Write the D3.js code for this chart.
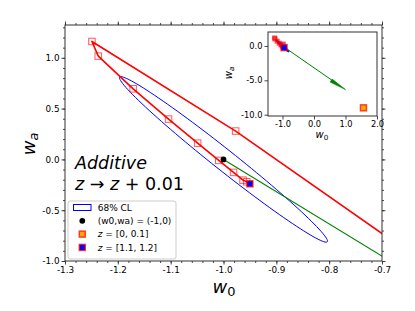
<!DOCTYPE html>
<html>
<head>
<meta charset="utf-8">
<script src="https://cdn.jsdelivr.net/npm/d3@7"></script>
<style>
  html, body { margin: 0; padding: 0; background: #fff; }
  svg { display: block; font-family: "DejaVu Sans", sans-serif; }
  text { white-space: pre; }
</style>
</head>
<body>
<svg id="chart" width="415" height="311"></svg>
<script>
// ---------- Data ----------
// redshift-bin path, z=[0,0.1] first, z=[1.1,1.2] last
const pathW0 = [1.57, -0.977, -1.249, -1.237, -1.171, -1.104, -1.049, -1.009, -0.981, -0.963, -0.956, -0.950];
const pathWa = [-9.00, 0.279, 1.161, 1.017, 0.695, 0.397, 0.160, -0.010, -0.128, -0.204, -0.220, -0.240];
const fiducial = [-1, 0];
// 68% CL ellipse: centre + two conjugate half-axes (w0, wa)
const ellipseCenter = [-1, 0];
const ellipseMajor = [0.1965, -0.8105];
const ellipseMinor = [-0.0123, -0.0810];
const arrowEnd = [1.0, -6.35];

const xDomain = [-1.3, -0.7];
const yDomain = [-1.0, 1.323];
const xTicks = [-1.3, -1.2, -1.1, -1.0, -0.9, -0.8, -0.7];
const yTicks = [-1.0, -0.5, 0.0, 0.5, 1.0];

const insetXDomain = [-1.46, 2.0];
const insetYDomain = [-10.19, 2.03];
const insetXTicks = [-1, 0, 1, 2];
const insetYTicks = [0, -5, -10];

(function () {
  const svg = d3.select('#chart');
  const fmt = d => d.toFixed(1);

  const frameColor = '#333';
  const red = '#ff0000', blue = '#0000ff', green = '#008000', orange = '#ffa500';

  // ---------- Main axes ----------
  const box = { left: 65, right: 382, top: 25, bottom: 261 };
  const x = d3.scaleLinear().domain(xDomain).range([box.left, box.right]);
  const y = d3.scaleLinear().domain(yDomain).range([box.bottom, box.top]);

  svg.append('clipPath').attr('id', 'clipMain')
    .append('rect')
    .attr('x', box.left).attr('y', box.top)
    .attr('width', box.right - box.left).attr('height', box.bottom - box.top);

  const plot = svg.append('g').attr('clip-path', 'url(#clipMain)');

  function ellipsePts(c, a, b) {
    return d3.range(0, 361, 3).map(deg => {
      const t = deg * Math.PI / 180;
      return [c[0] + a[0] * Math.cos(t) + b[0] * Math.sin(t),
              c[1] + a[1] * Math.cos(t) + b[1] * Math.sin(t)];
    });
  }
  const pts = pathW0.map((w0, i) => [w0, pathWa[i]]);

  function drawMarks(g, sx, sy, opt) {
    const line = d3.line().x(d => sx(d[0])).y(d => sy(d[1]));
    g.append('path')
      .attr('d', line(ellipsePts(ellipseCenter, ellipseMajor, ellipseMinor)))
      .attr('fill', 'none').attr('stroke', blue).attr('stroke-width', opt.ellW);

    if (opt.arrow) {
      opt.arrow(g);
    } else {
      g.append('line')
        .attr('x1', sx(fiducial[0])).attr('y1', sy(fiducial[1]))
        .attr('x2', sx(arrowEnd[0])).attr('y2', sy(arrowEnd[1]))
        .attr('stroke', green).attr('stroke-width', 1.1);
    }

    if (opt.pathLine) {
      g.append('path')
        .attr('d', line(pts))
        .attr('fill', 'none').attr('stroke', red).attr('stroke-width', 1.6)
        .attr('stroke-linejoin', 'round');
    }

    const s = opt.sq;
    g.selectAll(null)
      .data(pts.slice(1, -1))
      .enter().append('rect')
      .attr('x', d => sx(d[0]) - s / 2).attr('y', d => sy(d[1]) - s / 2)
      .attr('width', s).attr('height', s)
      .attr('fill', opt.sqFill).attr('fill-opacity', opt.sqFillOp)
      .attr('stroke', red).attr('stroke-opacity', 0.65).attr('stroke-width', 1);

    g.append('circle')
      .attr('cx', sx(fiducial[0])).attr('cy', sy(fiducial[1]))
      .attr('r', opt.dotR).attr('fill', '#000');

    const first = pts[0], last = pts[pts.length - 1];
    const s2 = opt.endSq;
    g.append('rect')
      .attr('x', sx(first[0]) - s2 / 2).attr('y', sy(first[1]) - s2 / 2)
      .attr('width', s2).attr('height', s2)
      .attr('fill', orange).attr('stroke', red).attr('stroke-opacity', 0.7).attr('stroke-width', 1.5);
    g.append('rect')
      .attr('x', sx(last[0]) - s2 / 2).attr('y', sy(last[1]) - s2 / 2)
      .attr('width', s2).attr('height', s2)
      .attr('fill', blue).attr('stroke', red).attr('stroke-opacity', 0.7).attr('stroke-width', 1.5);
  }

  drawMarks(plot, x, y, {
    ellW: 1, pathLine: true, sq: 6.5, sqFill: 'none', sqFillOp: 1, dotR: 2.9, endSq: 6
  });

  // ---------- Main axis ticks (outward on all four sides) ----------
  function styleAxis(g) {
    g.select('.domain').remove();
    g.selectAll('line').attr('stroke', frameColor).attr('stroke-width', 0.9);
    g.selectAll('text').attr('fill', '#000').attr('font-size', 8.8)
      .attr('font-family', '"DejaVu Sans", sans-serif');
  }
  const xMinor = x.ticks(30), yMinor = y.ticks(20);

  svg.append('g').attr('transform', `translate(0,${box.bottom})`)
    .call(d3.axisBottom(x).tickValues(xMinor).tickSize(2).tickFormat(''))
    .call(styleAxis);
  svg.append('g').attr('transform', `translate(0,${box.bottom})`)
    .call(d3.axisBottom(x).tickValues(xTicks).tickSize(3.5).tickPadding(2).tickFormat(fmt))
    .call(styleAxis);
  svg.append('g').attr('transform', `translate(0,${box.top})`)
    .call(d3.axisTop(x).tickValues(xMinor).tickSize(2).tickFormat(''))
    .call(styleAxis);
  svg.append('g').attr('transform', `translate(0,${box.top})`)
    .call(d3.axisTop(x).tickValues(xTicks).tickSize(3.5).tickFormat(''))
    .call(styleAxis);
  svg.append('g').attr('transform', `translate(${box.left},0)`)
    .call(d3.axisLeft(y).tickValues(yMinor).tickSize(2).tickFormat(''))
    .call(styleAxis);
  svg.append('g').attr('transform', `translate(${box.left},0)`)
    .call(d3.axisLeft(y).tickValues(yTicks).tickSize(3.5).tickPadding(2).tickFormat(fmt))
    .call(styleAxis);
  svg.append('g').attr('transform', `translate(${box.right},0)`)
    .call(d3.axisRight(y).tickValues(yMinor).tickSize(2).tickFormat(''))
    .call(styleAxis);
  svg.append('g').attr('transform', `translate(${box.right},0)`)
    .call(d3.axisRight(y).tickValues(yTicks).tickSize(3.5).tickFormat(''))
    .call(styleAxis);

  svg.append('rect')
    .attr('x', box.left).attr('y', box.top)
    .attr('width', box.right - box.left).attr('height', box.bottom - box.top)
    .attr('fill', 'none').attr('stroke', frameColor).attr('stroke-width', 1);

  // ---------- Axis labels ----------
  function subLabel(g, main, sub, size) {
    const t = g.append('text').attr('font-size', size).attr('text-anchor', 'middle');
    t.append('tspan').attr('font-style', 'italic').text(main);
    t.append('tspan').attr('font-size', size * 0.72).attr('dy', size * 0.16)
      .attr('font-style', sub === 'a' ? 'italic' : 'normal').text(sub);
    return t;
  }
  subLabel(svg, 'w', '0', 18).attr('x', 224).attr('y', 293);
  subLabel(svg, 'w', 'a', 18).attr('transform', 'translate(35,144) rotate(-90)');

  // ---------- Annotation ----------
  svg.append('text').attr('x', 75).attr('y', 168.5)
    .attr('font-size', 17.5).attr('font-style', 'italic').text('Additive');
  const eq = svg.append('text').attr('x', 75).attr('y', 190).attr('font-size', 17.5);
  eq.append('tspan').attr('font-style', 'italic').text('z');
  eq.append('tspan').text(' \u2192 ');
  eq.append('tspan').attr('font-style', 'italic').text('z');
  eq.append('tspan').text(' + 0.01');

  // ---------- Legend ----------
  const lg = svg.append('g').attr('transform', 'translate(68,201)');
  lg.append('rect').attr('width', 108).attr('height', 58).attr('rx', 2)
    .attr('fill', '#fff').attr('fill-opacity', 0.85)
    .attr('stroke', '#cccccc').attr('stroke-width', 1);
  const rowY = [6.5, 19.8, 33.1, 46.4];
  const mx = 14.3, tx = 29.7;
  lg.append('rect').attr('x', 5.5).attr('y', rowY[0] - 3).attr('width', 17.5).attr('height', 6)
    .attr('fill', '#fff').attr('stroke', blue).attr('stroke-width', 1);
  lg.append('circle').attr('cx', mx).attr('cy', rowY[1]).attr('r', 2.9).attr('fill', '#000');
  [[orange, rowY[2]], [blue, rowY[3]]].forEach(([c, yy]) => {
    lg.append('rect').attr('x', mx - 3).attr('y', yy - 3).attr('width', 6).attr('height', 6)
      .attr('fill', c).attr('stroke', red).attr('stroke-opacity', 0.7).attr('stroke-width', 1.5);
  });
  const legendText = (yy) => lg.append('text').attr('x', tx).attr('y', yy + 3.3).attr('font-size', 9);
  legendText(rowY[0]).text('68% CL');
  legendText(rowY[1]).text('(w0,wa) = (-1,0)');
  [['[0, 0.1]', rowY[2]], ['[1.1, 1.2]', rowY[3]]].forEach(([r, yy]) => {
    const t = legendText(yy);
    t.append('tspan').attr('font-style', 'italic').text('z');
    t.append('tspan').text(' = ' + r);
  });

  // ---------- Inset ----------
  const ib = { left: 268, right: 377, top: 32, bottom: 116 };
  const xi = d3.scaleLinear().domain(insetXDomain).range([ib.left, ib.right]);
  const yi = d3.scaleLinear().domain(insetYDomain).range([ib.bottom, ib.top]);

  svg.append('rect')
    .attr('x', ib.left).attr('y', ib.top)
    .attr('width', ib.right - ib.left).attr('height', ib.bottom - ib.top)
    .attr('fill', '#fff');
  svg.append('clipPath').attr('id', 'clipInset')
    .append('rect')
    .attr('x', ib.left).attr('y', ib.top)
    .attr('width', ib.right - ib.left).attr('height', ib.bottom - ib.top);
  const inset = svg.append('g').attr('clip-path', 'url(#clipInset)');

  drawMarks(inset, xi, yi, {
    ellW: 1.6, pathLine: false, sq: 4, sqFill: red, sqFillOp: 0.5, dotR: 1.8, endSq: 6,
    arrow: g => {
      const x0 = xi(fiducial[0]), y0 = yi(fiducial[1]);
      const x1 = xi(arrowEnd[0]), y1 = yi(arrowEnd[1]);
      const len = Math.hypot(x1 - x0, y1 - y0);
      const ux = (x1 - x0) / len, uy = (y1 - y0) / len;
      const hl = 17, hw = 2.6;
      const bx = x1 - ux * hl, by = y1 - uy * hl;
      g.append('line').attr('x1', x0).attr('y1', y0).attr('x2', bx).attr('y2', by)
        .attr('stroke', green).attr('stroke-width', 1);
      g.append('path')
        .attr('d', `M${x1},${y1}L${bx - uy * hw},${by + ux * hw}L${bx + uy * hw * 0.4},${by - ux * hw * 0.4}Z`)
        .attr('fill', green).attr('stroke', green).attr('stroke-width', 0.6);
    }
  });

  function styleInset(g) {
    styleAxis(g);
    g.selectAll('text').attr('font-size', 8.3);
  }
  svg.append('g').attr('transform', `translate(0,${ib.bottom})`)
    .call(d3.axisBottom(xi).tickValues(insetXTicks).tickSize(3.5).tickPadding(2).tickFormat(fmt))
    .call(styleInset);
  svg.append('g').attr('transform', `translate(${ib.left},0)`)
    .call(d3.axisLeft(yi).tickValues(insetYTicks).tickSize(3.5).tickPadding(2).tickFormat(fmt))
    .call(styleInset);
  svg.append('rect')
    .attr('x', ib.left).attr('y', ib.top)
    .attr('width', ib.right - ib.left).attr('height', ib.bottom - ib.top)
    .attr('fill', 'none').attr('stroke', frameColor).attr('stroke-width', 1);

  subLabel(svg, 'w', '0', 10).attr('x', 322).attr('y', 138);
  subLabel(svg, 'w', 'a', 10).attr('transform', 'translate(232,73) rotate(-90)');
})();
</script>
</body>
</html>
